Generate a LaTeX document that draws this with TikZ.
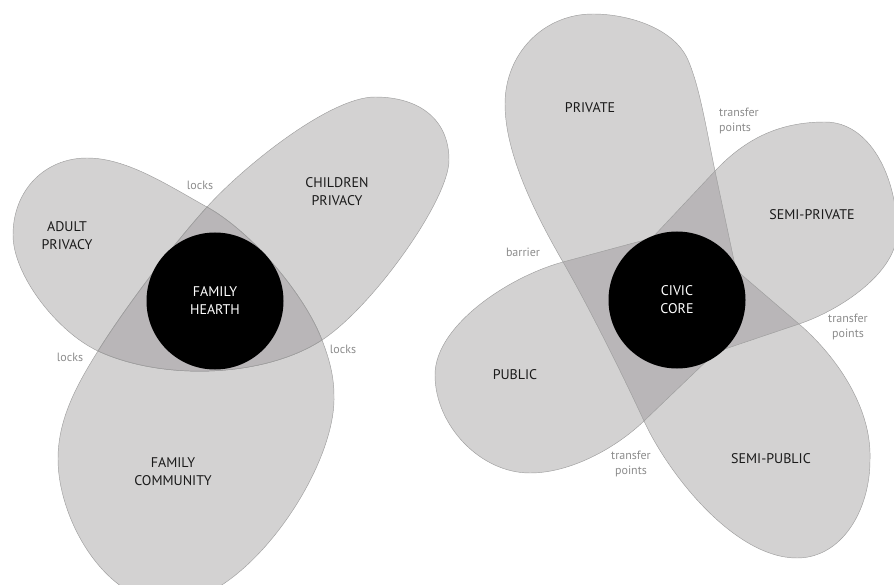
\documentclass[tikz,border=0pt]{standalone}
\usepackage{fontspec}
\setmainfont{PT Sans}

\definecolor{blobgray}{RGB}{211,210,210}
\definecolor{overlapgray}{RGB}{185,182,184}
\definecolor{edgegray}{RGB}{158,158,158}
\definecolor{notegray}{RGB}{140,140,140}
\definecolor{zoneblack}{RGB}{26,26,26}

\tikzset{
  blob/.style={fill=blobgray},
  overlap/.style={fill=overlapgray},
  blobedge/.style={draw=edgegray, line width=0.45pt},
  zone/.style={text=zoneblack, align=center, inner sep=0pt, font=\fontsize{14}{18}\selectfont},
  note/.style={text=notegray, align=center, inner sep=0pt, font=\fontsize{12}{15}\selectfont},
  core/.style={circle, fill=black, text=white, align=center, inner sep=0pt,
               minimum size=137pt, font=\fontsize{14}{18}\selectfont},
}

\begin{document}
\begin{tikzpicture}[x=1pt,y=-1pt]

\useasboundingbox (0,0) rectangle (894,585);
\clip (0,0) rectangle (894,585);

% Vertices of the family triangle
\coordinate (T) at (207,207);
\coordinate (L) at (98,351);
\coordinate (R) at (322,340);

% Vertices of the civic quad (M* lie under the black core)
\coordinate (Tv) at (715,171);
\coordinate (Rv) at (799,324);
\coordinate (Bv) at (644,421);
\coordinate (Lv) at (563,262);
\coordinate (Mq) at (736,270);
\coordinate (Mu) at (652,238);
\coordinate (Mw) at (716,352);

% Blob outlines
\def\adultblob{(R) .. controls (304.1,293.3) and (250.75,231.25) .. (T)
  .. controls (167.6,185.2) and (127,158) .. (87,158)
  .. controls (45,158) and (13,190) .. (13,235)
  .. controls (13,275) and (57.2,332) .. (L)
  .. controls (161.4,380.6) and (263.3,378.2) .. (R) -- cycle}
\def\childblob{(L) .. controls (125.6,306.9) and (172.2,245.6) .. (T)
  .. controls (243.8,166.1) and (330,97) .. (375,97)
  .. controls (420,97) and (449,120) .. (449,160)
  .. controls (449,200) and (372.3,307.3) .. (R)
  .. controls (263.3,378.2) and (161.4,380.6) .. (L) -- cycle}
\def\commblob{(T) .. controls (172.2,245.6) and (125.6,306.9) .. (L)
  .. controls (76.8,384.9) and (58,419) .. (58,459)
  .. controls (58,519) and (105,603) .. (170,603)
  .. controls (245,603) and (336,470) .. (334,396)
  .. controls (334,376) and (329.2,358.7) .. (R)
  .. controls (304.1,293.3) and (250.75,231.25) .. (T) -- cycle}
\def\privblob{(Tv) .. controls (706.7,131.9) and (700,87.5) .. (688,60)
  .. controls (674,27.9) and (628,14) .. (593,14)
  .. controls (543,14) and (505,54) .. (505,104)
  .. controls (505,154) and (535.5,214.4) .. (Lv)
  .. controls (588,305.3) and (623,375.5) .. (Bv)
  .. controls (669.2,475.6) and (735,558) .. (797,558)
  .. controls (842,558) and (870,510) .. (870,460)
  .. controls (872,405) and (833.2,353.3) .. (Rv)
  -- (Mq) -- cycle}
\def\pubblob{(Tv) .. controls (745.8,138.2) and (780,122) .. (825,122)
  .. controls (870,122) and (897,177) .. (897,232)
  .. controls (897,272) and (841.6,309.6) .. (Rv)
  -- (Mw) -- (Bv)
  .. controls (615.1,448.7) and (570,473) .. (530,473)
  .. controls (480,473) and (435,425) .. (435,375)
  .. controls (435,325) and (509.9,276.3) .. (Lv)
  -- (Mu) -- cycle}

% Fill the blobs
\fill[blob] \adultblob;
\fill[blob] \childblob;
\fill[blob] \commblob;
\fill[blob] \privblob;
\fill[blob] \pubblob;

% Darker where blobs overlap
\begin{scope}
\clip \adultblob;
\fill[overlap] \childblob;
\fill[overlap] \commblob;
\end{scope}
\begin{scope}
\clip \childblob;
\fill[overlap] \commblob;
\end{scope}
\begin{scope}
\clip \privblob;
\fill[overlap] \pubblob;
\end{scope}

% Thin edges on top
\draw[blobedge] \adultblob;
\draw[blobedge] \childblob;
\draw[blobedge] \commblob;
\draw[blobedge] \privblob;
\draw[blobedge] \pubblob;

% Cores
\node[core] (hearth) at (215,301) {FAMILY\\HEARTH};
\node[core] (civic) at (677,300) {CIVIC\\CORE};

% Zone names
\node[zone] (adult) at (67,236) {ADULT\\PRIVACY};
\node[zone] (children) at (337,192) {CHILDREN\\PRIVACY};
\node[zone] (community) at (173,472) {FAMILY\\COMMUNITY};
\node[zone] (private) at (590,108) {PRIVATE};
\node[zone] (semiprivate) at (812,215) {SEMI-PRIVATE};
\node[zone] (public) at (515,375) {PUBLIC};
\node[zone] (semipublic) at (771,459) {SEMI-PUBLIC};

% Notes at the crossings
\node[note] (lockstop) at (200,185) {locks};
\node[note] (locksleft) at (70,357) {locks};
\node[note] (locksright) at (343,349) {locks};
\node[note, anchor=west, align=left] (transfertop) at (719,121) {transfer\\points};
\node[note] (transferright) at (848,327) {transfer\\points};
\node[note] (transferbottom) at (631,464) {transfer\\points};
\node[note] (barrier) at (523,252) {barrier};

\end{tikzpicture}
\end{document}
